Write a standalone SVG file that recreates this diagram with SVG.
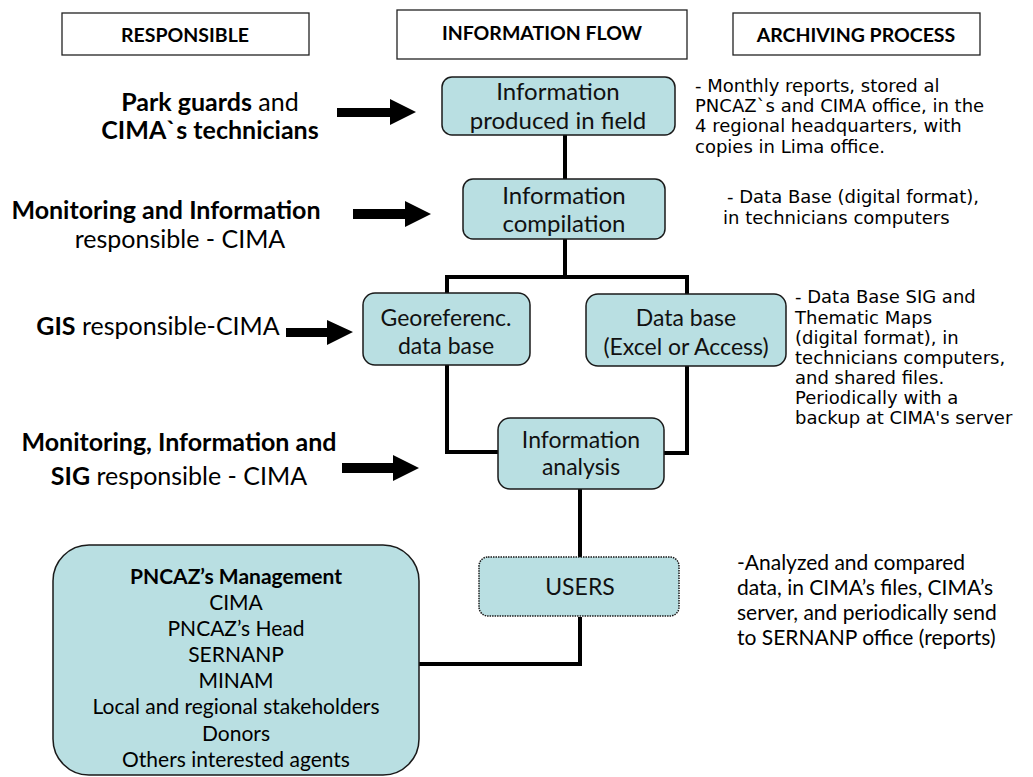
<svg xmlns="http://www.w3.org/2000/svg" width="1033" height="777" viewBox="0 0 1033 777">
<style>
.hdr{fill:#fff;stroke:#222;stroke-width:1.3}
.ht{font-family:Lato,"Liberation Sans",sans-serif;font-weight:bold;font-size:19.5px;fill:#000;text-anchor:middle}
.node{fill:#b9dfe2;stroke:#1a1a1a;stroke-width:1.5}
.nt{font-family:Lato,"Liberation Sans",sans-serif;font-size:23px;fill:#111;text-anchor:middle}
.big{font-size:24px}
.lt{font-family:Lato,"Liberation Sans",sans-serif;font-size:25px;fill:#000;text-anchor:middle}
.b{font-weight:bold}
.arch{font-family:"DejaVu Sans","Liberation Sans",sans-serif;font-size:18px;fill:#000}
.cal{font-family:Lato,"Liberation Sans",sans-serif;font-size:21px;fill:#000}
.con{fill:none;stroke:#000;stroke-width:4}
.arr{fill:#000}
</style>
<rect width="1033" height="777" fill="#fff"/>
<g id="header-responsible"><rect class="hdr" x="62" y="13" width="247" height="42"/><text class="ht" x="185" y="42">RESPONSIBLE</text></g>
<g id="header-flow"><rect class="hdr" x="397" y="10" width="290" height="49"/><text class="ht" x="542" y="40" font-size="20">INFORMATION FLOW</text></g>
<g id="header-archiving"><rect class="hdr" x="733" y="13" width="247" height="42"/><text class="ht" x="856" y="42">ARCHIVING PROCESS</text></g>

<g id="connectors">
<path class="con" d="M565 135 V179"/>
<path class="con" d="M565 239 V277 M447 277 H687 M447 275 V293 M687 275 V294"/>
<path class="con" d="M447 365 V452 H498"/>
<path class="con" d="M687 366 V453 H664"/>
<path class="con" d="M580 489 V557 M580 617 V664 H419"/>
</g>

<g id="arrows">
<path class="arr" d="M337 108 H390 V99 L416 112 L390 125 V117 H337 Z"/>
<path class="arr" d="M353 209 H405 V201 L431 214 L405 227 V219 H353 Z"/>
<path class="arr" d="M286 328 H327 V320 L353 332 L327 345 V337 H286 Z"/>
<path class="arr" d="M342 463 H393 V455 L419 468 L393 481 V473 H342 Z"/>
</g>

<g id="node-produced"><rect class="node" x="442" y="77" width="233" height="58" rx="10"/><text class="nt big" x="558" y="100">Information</text><text class="nt big" x="558" y="129">produced in field</text></g>
<g id="node-compilation"><rect class="node" x="463" y="179" width="202" height="60" rx="10"/><text class="nt big" x="564" y="204">Information</text><text class="nt big" x="564" y="232">compilation</text></g>
<g id="node-georef"><rect class="node" x="363" y="293" width="167" height="72" rx="12"/><text class="nt" x="446" y="326">Georeferenc.</text><text class="nt" x="446" y="354">data base</text></g>
<g id="node-database"><rect class="node" x="586" y="294" width="200" height="72" rx="12"/><text class="nt" x="686" y="326">Data base</text><text class="nt" x="686" y="355">(Excel or Access)</text></g>
<g id="node-analysis"><rect class="node" x="498" y="418" width="166" height="71" rx="12"/><text class="nt" x="581" y="448">Information</text><text class="nt" x="581" y="475">analysis</text></g>
<g id="node-users"><rect class="node" x="479" y="557" width="200" height="59" rx="9" stroke-dasharray="1.5 1" stroke="#444" stroke-width="1.2"/><text class="nt" x="580" y="595" font-size="22">USERS</text></g>
<g id="node-management"><rect class="node" x="53" y="545" width="366" height="230" rx="36"/>
<text class="cal" text-anchor="middle" x="236" y="584" font-size="22" font-weight="bold">PNCAZ’s Management</text>
<text class="cal" text-anchor="middle" x="236" y="610" font-size="22">CIMA</text>
<text class="cal" text-anchor="middle" x="236" y="636" font-size="22">PNCAZ’s Head</text>
<text class="cal" text-anchor="middle" x="236" y="662" font-size="22">SERNANP</text>
<text class="cal" text-anchor="middle" x="236" y="688" font-size="22">MINAM</text>
<text class="cal" text-anchor="middle" x="236" y="714" font-size="22">Local and regional stakeholders</text>
<text class="cal" text-anchor="middle" x="236" y="741" font-size="22">Donors</text>
<text class="cal" text-anchor="middle" x="236" y="767" font-size="22">Others interested agents</text>
</g>

<g id="resp-1"><text class="lt" x="210" y="111" font-size="22"><tspan class="b">Park guards</tspan> and</text><text class="lt b" x="210" y="139" font-size="22">CIMA`s technicians</text></g>
<g id="resp-2"><text class="lt b" x="166" y="219" font-size="26">Monitoring and Information</text><text class="lt" x="180" y="248">responsible - CIMA</text></g>
<g id="resp-3"><text class="lt" x="158" y="335"><tspan class="b">GIS</tspan> responsible-CIMA</text></g>
<g id="resp-4"><text class="lt b" x="179" y="451">Monitoring, Information and</text><text class="lt" x="179" y="485"><tspan class="b">SIG</tspan> responsible - CIMA</text></g>

<g id="archive-1"><text class="arch" x="695" y="92">- Monthly reports, stored al</text><text class="arch" x="695" y="112">PNCAZ`s and CIMA office, in the</text><text class="arch" x="695" y="132">4 regional headquarters, with</text><text class="arch" x="695" y="153">copies in Lima office.</text></g>
<g id="archive-2"><text class="arch" x="727" y="203">- Data Base (digital format),</text><text class="arch" x="723" y="224">in technicians computers</text></g>
<g id="archive-3"><text class="arch" x="795" y="303">- Data Base SIG and</text><text class="arch" x="795" y="324">Thematic Maps</text><text class="arch" x="795" y="344">(digital format), in</text><text class="arch" x="795" y="364">technicians computers,</text><text class="arch" x="795" y="384">and shared files.</text><text class="arch" x="795" y="404">Periodically with a</text><text class="arch" x="795" y="424">backup at CIMA's server</text></g>
<g id="archive-4"><text class="cal" x="737" y="570">-Analyzed and compared</text><text class="cal" x="737" y="595">data, in CIMA’s files, CIMA’s</text><text class="cal" x="737" y="620">server, and periodically send</text><text class="cal" x="737" y="645">to SERNANP office (reports)</text></g>
</svg>
